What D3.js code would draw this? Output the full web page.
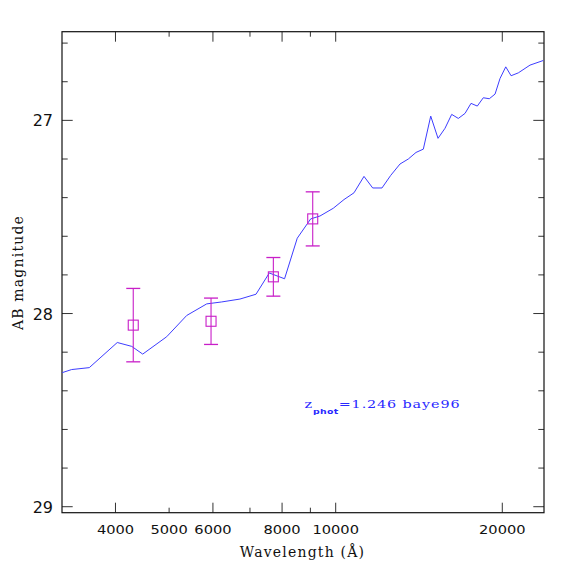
<!DOCTYPE html>
<html>
<head>
<meta charset="utf-8">
<script src="https://cdn.jsdelivr.net/npm/d3@7"></script>
<style>
  html, body { margin: 0; padding: 0; background: #fff; }
  svg text { font-family: "DejaVu Serif", serif; }
</style>
</head>
<body>
<div id="chart"></div>
<script>
// model SED (wavelength in Angstrom, AB mag)
const sedWave = [3205, 3333, 3587, 4030, 4280, 4480, 4950, 5380, 5847, 6223,
  6714, 7178, 7586, 8083, 8522, 9012, 9368, 9900, 10351, 10791,
  11249, 11664, 12123, 12571, 13067, 13527, 13968, 14399, 14849, 15307,
  15758, 16203, 16656, 17127, 17559, 18025, 18480, 18948, 19406, 19813,
  20290, 20744, 21380, 22444, 23724];
const sedMag = [28.306, 28.29, 28.28, 28.15, 28.17, 28.21, 28.12, 28.01, 27.95, 27.94,
  27.925, 27.90, 27.79, 27.82, 27.61, 27.51, 27.495, 27.455, 27.41, 27.375,
  27.29, 27.35, 27.35, 27.285, 27.226, 27.20, 27.166, 27.149, 26.978, 27.093,
  27.041, 26.969, 26.99, 26.964, 26.912, 26.926, 26.883, 26.888, 26.864, 26.783,
  26.723, 26.769, 26.754, 26.714, 26.69];

// photometry
const photWave = [4307, 5953, 7715, 9088];
const photMag = [28.06, 28.04, 27.81, 27.51];
const photErr = [0.19, 0.12, 0.10, 0.14];

// axes
const xMajor = [4000, 6000, 8000, 10000, 20000];
const xMinor = [5000, 7000, 9000];
const xLabels = [4000, 5000, 6000, 8000, 10000, 20000];
const yMajor = [27, 28, 29];
const yMinor = [26.6, 26.8, 27.2, 27.4, 27.6, 27.8, 28.2, 28.4, 28.6, 28.8];

const W = 574, H = 574;
const margin = { left: 62, right: 30, top: 31.7, bottom: 61.3 };
const innerW = W - margin.left - margin.right;
const innerH = H - margin.top - margin.bottom;

const svg = d3.select("#chart").append("svg")
  .attr("width", W).attr("height", H);

const g = svg.append("g")
  .attr("transform", `translate(${margin.left},${margin.top})`);

const x = d3.scaleLog().domain([3202, 23790]).range([0, innerW]);
const y = d3.scaleLinear().domain([26.541, 29.031]).range([0, innerH]);

g.append("clipPath").attr("id", "clip")
  .append("rect").attr("width", innerW).attr("height", innerH);

// ticks - bottom/top
const tickColor = "#333";
function xTicks(vals, len) {
  g.selectAll(null).data(vals).join("line")
    .attr("x1", d => x(d)).attr("x2", d => x(d))
    .attr("y1", innerH).attr("y2", innerH - len)
    .attr("stroke", tickColor).attr("stroke-width", 1);
  g.selectAll(null).data(vals).join("line")
    .attr("x1", d => x(d)).attr("x2", d => x(d))
    .attr("y1", 0).attr("y2", len)
    .attr("stroke", tickColor).attr("stroke-width", 1);
}
xTicks(xMajor, 10);
xTicks(xMinor, 5);

function yTicks(vals, len) {
  g.selectAll(null).data(vals).join("line")
    .attr("x1", 0).attr("x2", len)
    .attr("y1", d => y(d)).attr("y2", d => y(d))
    .attr("stroke", tickColor).attr("stroke-width", 1);
  g.selectAll(null).data(vals).join("line")
    .attr("x1", innerW).attr("x2", innerW - len)
    .attr("y1", d => y(d)).attr("y2", d => y(d))
    .attr("stroke", tickColor).attr("stroke-width", 1);
}
yTicks(yMajor, 10.7);
yTicks(yMinor, 5.7);

// tick labels (wide glyphs, like the plotting package's font)
g.selectAll(null).data(xLabels).join("text")
  .attr("transform", d => `translate(${x(d)},${innerH + 21}) scale(1.18,1)`)
  .attr("text-anchor", "middle")
  .style("font-family", "'DejaVu Sans', sans-serif")
  .style("font-size", "12.4px")
  .attr("fill", "#111")
  .text(d => d);

g.selectAll(null).data(yMajor).join("text")
  .attr("x", -9).attr("y", d => y(d) + 6)
  .attr("text-anchor", "end")
  .style("font-family", "'DejaVu Sans', sans-serif")
  .style("font-size", "16px")
  .attr("fill", "#111")
  .text(d => d);

// frame
g.append("rect")
  .attr("width", innerW).attr("height", innerH)
  .attr("fill", "none").attr("stroke", "#111").attr("stroke-width", 1.2);

// model line
const line = d3.line()
  .x((d, i) => x(sedWave[i]))
  .y((d, i) => y(sedMag[i]));

g.append("path")
  .datum(sedWave)
  .attr("clip-path", "url(#clip)")
  .attr("d", line)
  .attr("fill", "none")
  .attr("stroke", "#3d3dff")
  .attr("stroke-width", 1);

// photometric points with error bars
const magenta = "#c81ec8";
const cap = 7, box = 5;
const pts = g.append("g");
photWave.forEach((w, i) => {
  const cx = x(w);
  const top = y(photMag[i] - photErr[i]);
  const bot = y(photMag[i] + photErr[i]);
  pts.append("line")
    .attr("x1", cx).attr("x2", cx).attr("y1", top).attr("y2", bot)
    .attr("stroke", magenta).attr("stroke-width", 1.1);
  [top, bot].forEach(yy => {
    pts.append("line")
      .attr("x1", cx - cap).attr("x2", cx + cap).attr("y1", yy).attr("y2", yy)
      .attr("stroke", magenta).attr("stroke-width", 1.3);
  });
  pts.append("rect")
    .attr("x", cx - box).attr("y", y(photMag[i]) - box)
    .attr("width", box * 2).attr("height", box * 2)
    .attr("fill", "none").attr("stroke", magenta).attr("stroke-width", 1.1);
});

// axis titles
svg.append("text")
  .attr("x", 302.5).attr("y", 557)
  .attr("text-anchor", "middle")
  .style("font-size", "14px")
  .style("letter-spacing", "1.2px")
  .attr("fill", "#111")
  .text("Wavelength (Å)");

svg.append("text")
  .attr("transform", "translate(23,272.5) rotate(-90)")
  .attr("text-anchor", "middle")
  .style("font-size", "14px")
  .style("letter-spacing", "1.2px")
  .attr("fill", "#111")
  .text("AB magnitude");

// annotation
const ann = svg.append("text")
  .attr("transform", "translate(304.5,408) scale(1.25,1)")
  .attr("fill", "#2828ff")
  .style("font-size", "11.5px")
  .style("letter-spacing", "0.7px");
ann.append("tspan").text("z");
ann.append("tspan").attr("dy", 6).style("font-size", "7.5px").style("letter-spacing", "0.3px")
  .style("font-family", "'DejaVu Sans', sans-serif").style("font-weight", "bold").text("phot");
ann.append("tspan").attr("dy", -6).text("=1.246 baye96");
</script>
</body>
</html>
